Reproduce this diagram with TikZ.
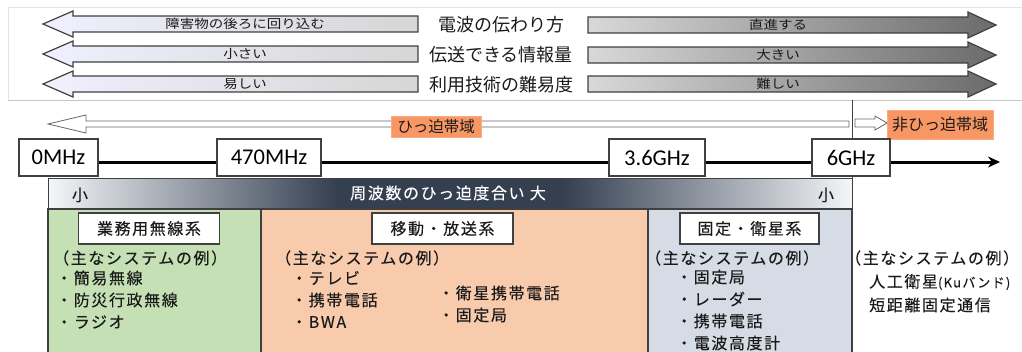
\documentclass[tikz,border=0pt]{standalone}
\usepackage{fontspec}
\usepackage{graphicx}
\setmainfont{Noto Sans CJK JP}
\newfontfamily\jpsp[LetterSpace=10,FakeBold=0.15]{Noto Sans CJK JP}
\newfontfamily\latfont{Carlito}
\usetikzlibrary{arrows.meta}

\definecolor{linegray}{HTML}{404040}
\definecolor{framegray}{HTML}{E3E3E3}
\definecolor{busgreen}{HTML}{C5E0B4}
\definecolor{mobpeach}{HTML}{F8CBAD}
\definecolor{satblue}{HTML}{D6DCE5}
\definecolor{bandorange}{HTML}{F89664}
\definecolor{barlight}{HTML}{F4F6F9}
\definecolor{bardark}{HTML}{343F50}
\definecolor{txtdark}{HTML}{1A1A1A}

\pgfdeclarehorizontalshading{hippakubar}{100bp}{color(0bp)=(barlight); color(25bp)=(barlight); color(43bp)=(bardark); color(57bp)=(bardark); color(75bp)=(barlight); color(100bp)=(barlight)}

\newcommand{\syshead}{（主なシステムの例）}

\tikzset{
  leftarrow/.style={draw=linegray, line width=1.2pt, left color=white!94!blue, right color=black!16},
  rightarrow/.style={draw=linegray, line width=1.2pt, left color=black!15, right color=black!58},
  arrowtext/.style={font=\fontsize{14.5}{15}\selectfont, text=txtdark, inner sep=0pt},
  rowlabel/.style={font=\fontsize{18}{20}\selectfont, text=txtdark, inner sep=0pt},
  bandarrow/.style={draw=black!60, line width=0.8pt, fill=white},
  bandlabel/.style={fill=bandorange, draw=bandorange!80!white, line width=0.5pt, inner sep=0pt, text=txtdark},
  freqbox/.style={draw=linegray, fill=white, line width=1.2pt, minimum height=37pt, inner sep=0pt, font=\latfont\fontsize{22.5}{24}\selectfont},
  axisline/.style={line width=3pt, black},
  column/.style={draw=linegray, line width=1.2pt},
  titlebox/.style={draw=linegray, fill=white, line width=1.2pt, minimum width=141pt, minimum height=31pt, inner sep=0pt, font=\jpsp\fontsize{16}{18}\selectfont, text=txtdark},
  bodytext/.style={font=\jpsp\fontsize{16}{18}\selectfont, anchor=west, inner sep=0pt, text=txtdark},
  bartext/.style={font=\jpsp\fontsize{16}{18}\selectfont, inner sep=0pt}
}

\begin{document}
\begin{tikzpicture}[x=1pt,y=-1pt]
\useasboundingbox (0,0) rectangle (1022,351);

% top panel
\draw[framegray, line width=0.8pt] (8,7) rectangle (1040,100);
\draw[black!22, line width=0.8pt] (8,100) -- (1040,100);

\draw[leftarrow] (43,24) -- ++(30,-13) -- ++(0,5) -- ++(345,0) -- ++(0,16) -- ++(-345,0) -- ++(0,5) -- cycle;
\draw[leftarrow] (43,54) -- ++(30,-13) -- ++(0,5) -- ++(345,0) -- ++(0,16) -- ++(-345,0) -- ++(0,5) -- cycle;
\draw[leftarrow] (43,84) -- ++(30,-13) -- ++(0,5) -- ++(345,0) -- ++(0,16) -- ++(-345,0) -- ++(0,5) -- cycle;
\draw[rightarrow] (996,25) -- ++(-28,-13) -- ++(0,5) -- ++(-380,0) -- ++(0,16) -- ++(380,0) -- ++(0,5) -- cycle;
\draw[rightarrow] (996,55) -- ++(-28,-13) -- ++(0,5) -- ++(-380,0) -- ++(0,16) -- ++(380,0) -- ++(0,5) -- cycle;
\draw[rightarrow] (996,84) -- ++(-28,-13) -- ++(0,5) -- ++(-380,0) -- ++(0,16) -- ++(380,0) -- ++(0,5) -- cycle;

\node[arrowtext] (obst) at (245,24) {\scalebox{1}[0.85]{障害物の後ろに回り込む}};
\node[arrowtext] (small) at (245,54) {\scalebox{1}[0.85]{小さい}};
\node[arrowtext] (easy) at (245,84) {\scalebox{1}[0.85]{易しい}};
\node[rowlabel] (prop) at (501,25) {電波の伝わり方};
\node[rowlabel] (amount) at (501,55) {伝送できる情報量};
\node[rowlabel] (diff) at (501,85) {利用技術の難易度};
\node[arrowtext] (straight) at (778,25) {\scalebox{1}[0.85]{直進する}};
\node[arrowtext] (large) at (778,55) {\scalebox{1}[0.85]{大きい}};
\node[arrowtext] (hard) at (778,84) {\scalebox{1}[0.85]{難しい}};

% band arrows
\draw[linegray, line width=0.8pt] (852,100) -- (852,178);
\draw[bandarrow] (48,124) -- ++(38,-9) -- ++(0,6) -- (849,121) -- (849,127) -- (86,127) -- ++(0,6) -- cycle;
\draw[bandarrow] (887,123) -- ++(-12,-7) -- ++(0,3) -- (855,119) -- (855,127) -- (875,127) -- ++(0,3) -- cycle;
\node[bandlabel, minimum width=90pt, minimum height=21pt, font=\fontsize{15.5}{17}\selectfont] (busy) at (436,126.5) {ひっ迫帯域};
\node[bandlabel, minimum width=106pt, minimum height=29pt, font=\fontsize{16}{18}\selectfont] (free) at (940,124.5) {非ひっ迫帯域};

% frequency axis
\coordinate (axisend) at (1000,162);
\node[freqbox, minimum width=79pt] (f0) at (58.5,157.5) {0MHz};
\node[freqbox, minimum width=104pt] (f470) at (269,157.5) {470MHz};
\node[freqbox, minimum width=96pt] (f36) at (657,157.5) {3.6GHz};
\node[freqbox, minimum width=78pt] (f6) at (851,157.5) {6GHz};
\draw[axisline] (f0.east |- axisend) -- (f470.west |- axisend);
\draw[axisline] (f470.east |- axisend) -- (f36.west |- axisend);
\draw[axisline] (f36.east |- axisend) -- (f6.west |- axisend);
\draw[axisline, -{Stealth[length=12pt,width=11pt]}] (f6.east |- axisend) -- (axisend);

% congestion bar
\path[shade, shading=hippakubar, draw=linegray, line width=1pt] (48,178) rectangle (852,209);
\node[bartext, text=white] (bar) at (448,193) {周波数のひっ迫度合い 大};
\node[bartext, text=txtdark] (lowl) at (80,195) {小};
\node[bartext, text=txtdark] (lowr) at (826,195) {小};

% system columns
\draw[column, fill=busgreen] (48,209) rectangle (261,360);
\draw[column, fill=mobpeach] (261,209) rectangle (648,360);
\draw[column, fill=satblue] (648,209) rectangle (852,360);

\node[titlebox] (gyomu) at (149,228.5) {業務用無線系};
\node[titlebox] (ido) at (442.5,228.5) {移動・放送系};
\node[titlebox, minimum width=139pt] (kotei) at (749.5,228.5) {固定・衛星系};

\node[bodytext] (exg) at (53,258) {\syshead};
\node[bodytext] (g1) at (56,278) {・簡易無線};
\node[bodytext] (g2) at (56,300) {・防災行政無線};
\node[bodytext] (g3) at (56,322) {・ラジオ};

\node[bodytext] (exm) at (275,258) {\syshead};
\node[bodytext] (m1) at (291,278) {・テレビ};
\node[bodytext] (m2) at (291,300) {・携帯電話};
\node[bodytext] (m3) at (291,322) {・BWA};
\node[bodytext] (m4) at (438,293) {・衛星携帯電話};
\node[bodytext] (m5) at (438,315) {・固定局};

\node[bodytext] (exs) at (645,258) {\syshead};
\node[bodytext] (s1) at (676,277) {・固定局};
\node[bodytext] (s2) at (676,299) {・レーダー};
\node[bodytext] (s3) at (676,321) {・携帯電話};
\node[bodytext] (s4) at (676,343) {・電波高度計};

\node[bodytext] (exr) at (845,258) {\syshead};
\node[bodytext] (r1) at (869,282) {人工衛星{\fontsize{13}{14}\selectfont (Kuバンド)}};
\node[bodytext] (r2) at (869,305) {短距離固定通信};
\end{tikzpicture}
\end{document}
